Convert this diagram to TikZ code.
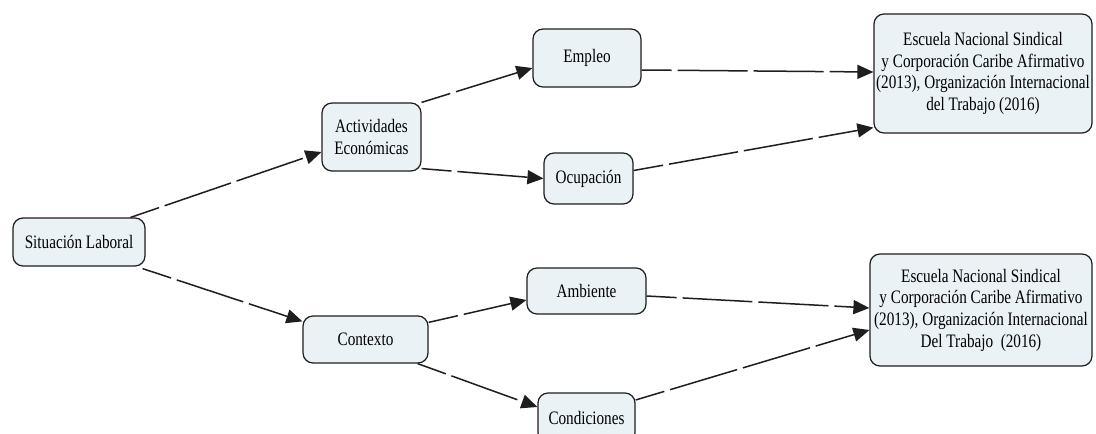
\documentclass[tikz,border=0pt]{standalone}
\usepackage{fontspec}
\setmainfont{Liberation Serif}[FakeStretch=0.8]
\usetikzlibrary{arrows.meta}
\definecolor{boxfill}{RGB}{234,242,246}
\definecolor{boxline}{RGB}{30,30,30}
\begin{document}
\begin{tikzpicture}[x=1pt,y=-1pt,
  box/.style={draw=boxline,line width=1.2pt,fill=boxfill,rounded corners=10pt,
    align=center,font=\fontsize{19}{21.7}\selectfont,inner sep=2pt},
  conn/.style={draw=boxline,line width=1.5pt,dash pattern=on 70pt off 6pt,dash phase=40pt,
    -{Triangle[length=16pt,width=14pt]}}]
\clip (0,0) rectangle (1096,434);
\fill[white] (0,0) rectangle (1096,434);
\node[box,minimum width=132pt,minimum height=48pt] (sit) at (79,242) {Situación Laboral};
\node[box,minimum width=99pt,minimum height=68pt] (act) at (371.5,137) {Actividades\\Económicas};
\node[box,minimum width=108pt,minimum height=58pt] (emp) at (587,58) {Empleo};
\node[box,minimum width=89pt,minimum height=51pt] (ocu) at (588.5,178.5) {Ocupación};
\node[box,minimum width=218pt,minimum height=119pt] (ref1) at (983,73.5) {Escuela Nacional Sindical\\y Corporación Caribe Afirmativo\\(2013), Organización Internacional\\del Trabajo (2016)};
\node[box,minimum width=125pt,minimum height=47pt] (ctx) at (365.5,339.5) {Contexto};
\node[box,minimum width=119pt,minimum height=46pt] (amb) at (586.5,291) {Ambiente};
\node[box,minimum width=97pt,minimum height=50pt] (cond) at (586.5,418) {Condiciones};
\node[box,minimum width=222pt,minimum height=112pt] (ref2) at (981,310) {Escuela Nacional Sindical\\y Corporación Caribe Afirmativo\\(2013), Organización Internacional\\Del Trabajo\ \ (2016)};
\draw[conn] ([xshift=-15pt]sit.north east) -- ([yshift=-15pt]act.west);
\draw[conn] ([xshift=-3pt,yshift=-2pt]sit.south east) -- ([yshift=-6pt]ctx.north west);
\draw[conn] (act.north east) -- ([yshift=-10pt]emp.west);
\draw[conn] ([yshift=3pt]act.south east) -- (ocu.west);
\draw[conn] ([yshift=-12pt]emp.east) -- ([yshift=1.5pt]ref1.west);
\draw[conn] ([yshift=8pt]ocu.east) -- ([yshift=6pt]ref1.south west);
\draw[conn] ([yshift=-7pt]ctx.north east) -- ([yshift=-9pt]amb.west);
\draw[conn] ([xshift=-11pt]ctx.south east) -- ([yshift=11pt]cond.west);
\draw[conn] ([yshift=-5pt]amb.east) -- ([yshift=2pt]ref2.west);
\draw[conn] ([yshift=18pt]cond.east) -- ([yshift=-20pt]ref2.west);
\end{tikzpicture}
\end{document}
